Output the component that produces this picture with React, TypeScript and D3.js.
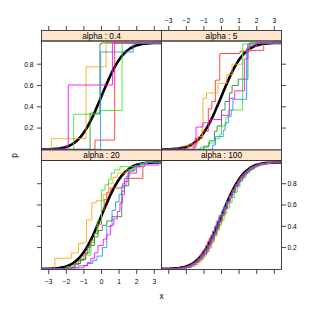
import React from "react";
import * as d3 from "d3";

// panel titles, in lattice order (bottom-left first is not used; we lay out top row first)
const panelTitles = ["alpha : 0.4", "alpha : 5", "alpha : 20", "alpha : 100"];
const seriesColors = ["#ff2a2a", "#ffa500", "#2ee62e", "#228b22", "#1e90ff", "#ff00ff"];
const xTicks = [-3, -2, -1, 0, 1, 2, 3];
const yTicks = [0.2, 0.4, 0.6, 0.8];

// base measure: standard normal cdf
const normX = [-3.4, -3.2, -3.0, -2.8, -2.6, -2.4, -2.2, -2.0, -1.8, -1.6, -1.4, -1.2, -1.0, -0.8, -0.6, -0.4, -0.2, 0,
  0.2, 0.4, 0.6, 0.8, 1.0, 1.2, 1.4, 1.6, 1.8, 2.0, 2.2, 2.4, 2.6, 2.8, 3.0, 3.2, 3.4];
const normP = [0.0003, 0.0007, 0.0013, 0.0026, 0.0047, 0.0082, 0.0139, 0.0228, 0.0359, 0.0548, 0.0808, 0.1151, 0.1587,
  0.2119, 0.2743, 0.3446, 0.4207, 0.5, 0.5793, 0.6554, 0.7257, 0.7881, 0.8413, 0.8849, 0.9192, 0.9452, 0.9641, 0.9772,
  0.9861, 0.9918, 0.9953, 0.9974, 0.9987, 0.9993, 0.9997];

// sampled cdfs: [jump location, cumulative p]
// alpha = 0.4
const a04Red = [[-0.37, 0.087], [0.75, 1.0]];
const a04Orange = [[-2.85, 0.1], [-0.88, 0.775], [0.26, 1.0]];
const a04Lime = [[-1.58, 0.33], [-0.09, 0.365], [1.17, 1.0]];
const a04Dark = [[-0.65, 0.34], [-0.09, 0.99], [0.0, 1.0]];
const a04Blue = [[-0.05, 0.915], [1.8, 1.0]];
const a04Magenta = [[-2.0, 0.03], [-1.89, 0.605], [0.62, 1.0]];

// alpha = 5
const a5Red = [[-2.2, 0.03], [-1.5, 0.1], [-1.1, 0.17], [-0.75, 0.38], [-0.55, 0.45], [-0.35, 0.65], [-0.1, 0.9],
  [1.05, 0.92], [1.6, 0.93], [2.4, 1.0]];
const a5Orange = [[-1.9, 0.05], [-1.35, 0.12], [-1.1, 0.25], [-1.05, 0.48], [-0.85, 0.53], [-0.2, 0.62], [0.3, 0.7],
  [0.6, 0.8], [1.2, 0.93], [1.6, 1.0]];
const a5Lime = [[-1.2, 0.02], [-0.75, 0.06], [-0.35, 0.1], [-0.1, 0.14], [0.0, 0.22], [0.25, 0.3], [0.38, 0.37],
  [1.2, 0.99], [1.8, 1.0]];
const a5Dark = [[-1.0, 0.03], [-0.7, 0.08], [-0.4, 0.17], [-0.25, 0.22], [0.0, 0.37], [0.2, 0.45], [0.45, 0.53],
  [0.6, 0.6], [0.95, 0.66], [1.5, 0.99], [2.0, 1.0]];
const a5Blue = [[-0.5, 0.04], [-0.35, 0.12], [0.1, 0.18], [0.2, 0.25], [0.4, 0.31], [0.55, 0.37], [0.65, 0.47],
  [1.43, 0.95], [1.6, 1.0]];
const a5Magenta = [[-1.6, 0.02], [-1.45, 0.21], [-1.05, 0.25], [-0.6, 0.28], [0.0, 0.32], [0.45, 0.48], [0.75, 0.55],
  [1.3, 0.85], [1.5, 0.97], [2.0, 1.0]];

// alpha = 20
const a20Red = [[-2.1, 0.01], [-1.6, 0.04], [-1.3, 0.08], [-1.0, 0.14], [-0.8, 0.2], [-0.6, 0.27], [-0.4, 0.33],
  [-0.2, 0.42], [0.0, 0.55], [0.15, 0.65], [0.3, 0.72], [0.5, 0.76], [1.2, 0.8], [1.3, 0.85], [2.35, 0.99], [2.6, 1.0]];
const a20Orange = [[-2.65, 0.1], [-1.7, 0.15], [-1.3, 0.24], [-1.05, 0.25], [-0.85, 0.46], [-0.55, 0.62], [-0.3, 0.64],
  [0.1, 0.7], [0.4, 0.8], [0.65, 0.86], [0.9, 0.9], [1.4, 0.93], [1.9, 0.97], [2.2, 0.99], [2.6, 1.0]];
const a20Lime = [[-2.0, 0.02], [-1.5, 0.05], [-1.2, 0.09], [-0.9, 0.13], [-0.6, 0.25], [-0.4, 0.33], [-0.25, 0.45],
  [0.0, 0.74], [0.2, 0.79], [0.4, 0.84], [0.55, 0.9], [0.75, 0.93], [1.05, 0.96], [2.2, 0.98], [2.4, 1.0]];
const a20Dark = [[-2.0, 0.01], [-1.5, 0.05], [-1.2, 0.09], [-0.9, 0.15], [-0.7, 0.22], [-0.4, 0.3], [-0.2, 0.36],
  [0.05, 0.41], [0.3, 0.45], [0.6, 0.49], [1.15, 0.73], [1.3, 0.78], [1.55, 0.92], [1.8, 0.96], [2.2, 0.99], [2.5, 1.0]];
const a20Blue = [[-1.9, 0.01], [-1.3, 0.03], [-0.8, 0.05], [-0.5, 0.08], [-0.25, 0.12], [0.05, 0.2], [0.3, 0.4],
  [0.6, 0.55], [0.8, 0.63], [1.0, 0.7], [1.15, 0.78], [1.4, 0.87], [1.6, 0.92], [1.9, 0.97], [2.2, 0.99], [2.5, 1.0]];
const a20Magenta = [[-1.7, 0.01], [-1.0, 0.03], [-0.8, 0.06], [-0.6, 0.1], [-0.4, 0.15], [-0.2, 0.22], [0.1, 0.28],
  [0.3, 0.32], [0.5, 0.41], [0.7, 0.47], [0.9, 0.54], [1.05, 0.62], [1.2, 0.7], [1.3, 0.82], [1.5, 0.9], [2.0, 0.96],
  [2.45, 0.975], [3.25, 0.99]];

// alpha = 100
const a100Red = [[-2.5, 0.008], [-2.2, 0.017], [-1.9, 0.03], [-1.7, 0.048], [-1.5, 0.072], [-1.35, 0.1], [-1.2, 0.135],
  [-1.05, 0.175], [-0.9, 0.22], [-0.8, 0.255], [-0.7, 0.29], [-0.6, 0.32], [-0.5, 0.355], [-0.4, 0.385], [-0.3, 0.41],
  [-0.2, 0.45], [-0.1, 0.49], [0.0, 0.52], [0.15, 0.575], [0.3, 0.63], [0.45, 0.68], [0.6, 0.73], [0.75, 0.775],
  [0.9, 0.815], [1.05, 0.855], [1.2, 0.885], [1.4, 0.915], [1.6, 0.945], [1.8, 0.965], [2.1, 0.985], [2.5, 0.995], [2.9, 1.0]];
const a100Orange = [[-2.4, 0.004], [-2.0, 0.012], [-1.7, 0.022], [-1.5, 0.04], [-1.3, 0.065], [-1.15, 0.09], [-1.0, 0.12],
  [-0.85, 0.16], [-0.7, 0.2], [-0.55, 0.25], [-0.4, 0.31], [-0.25, 0.37], [-0.1, 0.44], [0.05, 0.5], [0.2, 0.57],
  [0.35, 0.63], [0.5, 0.69], [0.65, 0.745], [0.8, 0.79], [0.95, 0.83], [1.1, 0.865], [1.3, 0.9], [1.5, 0.93], [1.7, 0.955],
  [2.0, 0.975], [2.3, 0.99], [2.7, 1.0]];
const a100Lime = [[-2.6, 0.004], [-2.2, 0.012], [-1.9, 0.025], [-1.6, 0.05], [-1.4, 0.075], [-1.2, 0.105], [-1.0, 0.145],
  [-0.8, 0.195], [-0.6, 0.255], [-0.45, 0.31], [-0.3, 0.36], [-0.15, 0.41], [0.0, 0.46], [0.15, 0.52], [0.3, 0.57],
  [0.45, 0.62], [0.6, 0.67], [0.75, 0.72], [0.9, 0.77], [1.05, 0.82], [1.2, 0.86], [1.4, 0.9], [1.6, 0.935], [1.85, 0.96],
  [2.1, 0.98], [2.4, 0.99], [2.8, 1.0]];
const a100Dark = [[-2.4, 0.006], [-2.0, 0.02], [-1.7, 0.04], [-1.45, 0.07], [-1.25, 0.1], [-1.05, 0.14], [-0.85, 0.19],
  [-0.7, 0.235], [-0.55, 0.285], [-0.4, 0.34], [-0.25, 0.4], [-0.1, 0.46], [0.05, 0.52], [0.2, 0.575], [0.35, 0.635],
  [0.5, 0.69], [0.65, 0.74], [0.8, 0.785], [0.95, 0.825], [1.1, 0.86], [1.3, 0.9], [1.5, 0.93], [1.75, 0.96], [2.0, 0.978],
  [2.4, 0.992], [2.8, 1.0]];
const a100Blue = [[-2.3, 0.006], [-2.0, 0.018], [-1.7, 0.04], [-1.5, 0.06], [-1.3, 0.09], [-1.1, 0.13], [-0.95, 0.17],
  [-0.8, 0.22], [-0.65, 0.28], [-0.5, 0.35], [-0.4, 0.4], [-0.3, 0.45], [-0.15, 0.5], [0.0, 0.54], [0.15, 0.59],
  [0.3, 0.63], [0.45, 0.68], [0.6, 0.72], [0.8, 0.78], [1.0, 0.835], [1.2, 0.88], [1.4, 0.92], [1.6, 0.945], [1.9, 0.97],
  [2.2, 0.985], [2.6, 1.0]];
const a100Magenta = [[-2.5, 0.006], [-2.1, 0.016], [-1.8, 0.035], [-1.55, 0.06], [-1.35, 0.09], [-1.15, 0.125],
  [-0.95, 0.165], [-0.75, 0.22], [-0.6, 0.27], [-0.45, 0.32], [-0.3, 0.38], [-0.15, 0.44], [0.0, 0.5], [0.15, 0.56],
  [0.3, 0.62], [0.45, 0.67], [0.6, 0.72], [0.75, 0.77], [0.9, 0.81], [1.05, 0.85], [1.25, 0.89], [1.45, 0.92],
  [1.65, 0.95], [1.9, 0.97], [2.2, 0.985], [2.6, 1.0]];

const panelSeries = [
  [a04Red, a04Orange, a04Lime, a04Dark, a04Blue, a04Magenta],
  [a5Red, a5Orange, a5Lime, a5Dark, a5Blue, a5Magenta],
  [a20Red, a20Orange, a20Lime, a20Dark, a20Blue, a20Magenta],
  [a100Red, a100Orange, a100Lime, a100Dark, a100Blue, a100Magenta],
];

const font = "'Liberation Sans', Arial, Helvetica, sans-serif";
const colLeft = [41.5, 161.5];
const panelW = 120;
const stripTop = [30.5, 150];
const stripH = 10.5;
const panelTop = [41, 160.5];
const panelH = 109;
const tickLen = 4.5;

function Panel({ idx }: { idx: number }) {
  const col = idx % 2;
  const row = Math.floor(idx / 2);
  const x0 = colLeft[col];
  const y0 = panelTop[row];
  const x = d3.scaleLinear().domain([-3.41, 3.41]).range([x0, x0 + panelW]);
  const y = d3.scaleLinear().domain([-0.006, 1.018]).range([y0 + panelH, y0]);

  const step = d3
    .line<number[]>()
    .x((d) => x(d[0]))
    .y((d) => y(d[1]))
    .curve(d3.curveStepAfter);
  const smooth = d3
    .line<number>()
    .x((d, i) => x(normX[i]))
    .y((d) => y(d))
    .curve(d3.curveMonotoneX);

  const clipId = `clip${idx}`;
  const sTop = stripTop[row];

  return (
    <g>
      <defs>
        <clipPath id={clipId}>
          <rect x={x0} y={y0} width={panelW} height={panelH} />
        </clipPath>
      </defs>
      {/* strip */}
      <rect x={x0} y={sTop} width={panelW} height={panelTop[row] - sTop} fill="#ffe5cc" stroke="#333" strokeWidth={0.9} />
      <text x={x0 + panelW / 2} y={sTop + 8} textAnchor="middle" fontSize={8.3} fontFamily={font} fill="#000">
        {panelTitles[idx]}
      </text>
      <g clipPath={`url(#${clipId})`}>
        <path d={smooth(normP) || ""} fill="none" stroke="#000" strokeWidth={2.6} />
        {panelSeries[idx].map((s, i) => {
          const pts = [[-3.41, 0], ...s, [3.41, s[s.length - 1][1]]];
          return (
            <path key={i} d={step(pts) || ""} fill="none" stroke={seriesColors[i]} strokeOpacity={0.85} strokeWidth={1} />
          );
        })}
      </g>
      <rect x={x0} y={y0} width={panelW} height={panelH} fill="none" stroke="#333" strokeWidth={0.9} />

      {/* top ticks */}
      {row === 0 &&
        xTicks.map((t) => (
          <g key={"t" + t}>
            <line x1={x(t)} x2={x(t)} y1={sTop} y2={sTop - tickLen} stroke="#333" strokeWidth={0.9} />
            {col === 1 && (
              <text x={x(t)} y={sTop - 7.3} textAnchor="middle" fontSize={6.7} fontFamily={font}>
                {t < 0 ? "\u2212" + Math.abs(t) : t}
              </text>
            )}
          </g>
        ))}
      {/* bottom ticks */}
      {row === 1 &&
        xTicks.map((t) => (
          <g key={"b" + t}>
            <line x1={x(t)} x2={x(t)} y1={y0 + panelH} y2={y0 + panelH + tickLen} stroke="#333" strokeWidth={0.9} />
            {col === 0 && (
              <text x={x(t)} y={y0 + panelH + 14} textAnchor="middle" fontSize={6.7} fontFamily={font}>
                {t < 0 ? "\u2212" + Math.abs(t) : t}
              </text>
            )}
          </g>
        ))}
      {/* left ticks */}
      {col === 0 &&
        yTicks.map((t) => (
          <g key={"l" + t}>
            <line x1={x0} x2={x0 - tickLen} y1={y(t)} y2={y(t)} stroke="#333" strokeWidth={0.9} />
            {row === 0 && (
              <text x={x0 - 8} y={y(t)} dy="0.35em" textAnchor="end" fontSize={6.7} fontFamily={font}>
                {t.toFixed(1)}
              </text>
            )}
          </g>
        ))}
      {/* right ticks */}
      {col === 1 &&
        yTicks.map((t) => (
          <g key={"r" + t}>
            <line x1={x0 + panelW} x2={x0 + panelW + tickLen} y1={y(t)} y2={y(t)} stroke="#333" strokeWidth={0.9} />
            {row === 1 && (
              <text x={x0 + panelW + 6} y={y(t)} dy="0.35em" textAnchor="start" fontSize={6.7} fontFamily={font}>
                {t.toFixed(1)}
              </text>
            )}
          </g>
        ))}
    </g>
  );
}

export default function App() {
  return (
    <svg width={312} height={312} style={{ position: "absolute", left: 0, top: 0, background: "#fff" }}>
      <rect width={312} height={312} fill="#fff" />
      {[0, 1, 2, 3].map((i) => (
        <Panel key={i} idx={i} />
      ))}
      <text x={161.5} y={298.5} textAnchor="middle" fontSize={8.3} fontFamily={font}>
        x
      </text>
      <text transform="translate(16.5,155.5) rotate(-90)" textAnchor="middle" fontSize={8.3} fontFamily={font}>
        p
      </text>
    </svg>
  );
}
